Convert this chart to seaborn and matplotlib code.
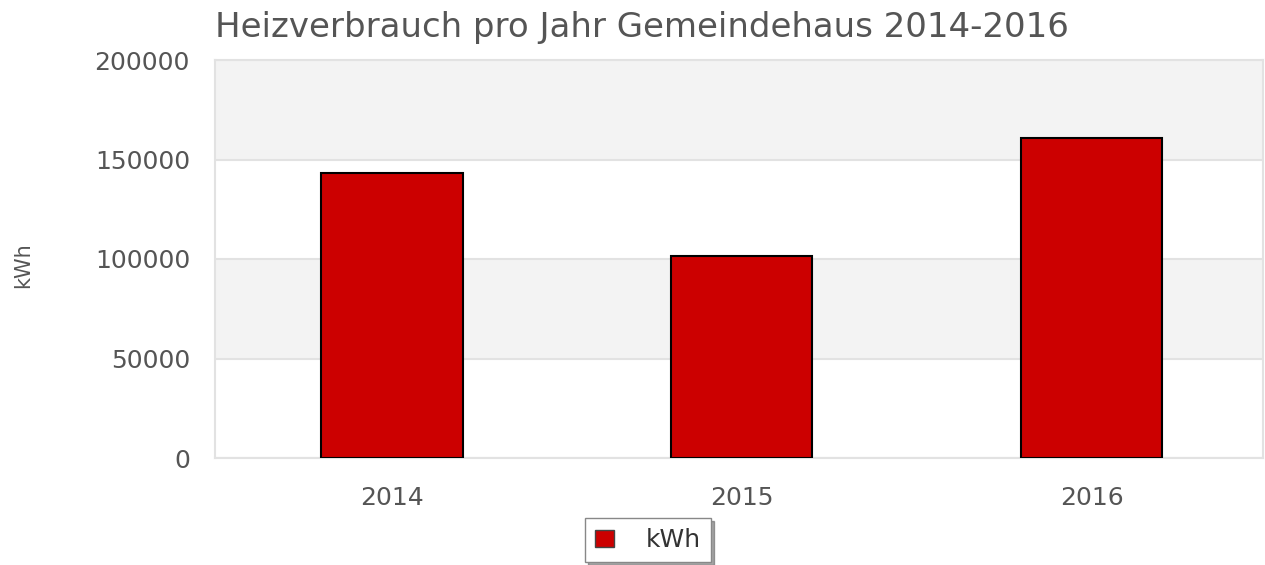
#! /usr/bin/env python

import matplotlib
matplotlib.use("Agg")
import matplotlib.pyplot as plt
from matplotlib.patches import Patch
import pandas as pd
import seaborn as sns

# data
years = ["2014", "2015", "2016"]
kwh = [143400, 101500, 160800]
yticks = [0, 50000, 100000, 150000, 200000]

title = "Heizverbrauch pro Jahr Gemeindehaus 2014-2016"
ylabel = "kWh"
legend_label = "kWh"

bar_color = "#cc0000"
text_color = "#555555"
grid_color = "#e2e2e2"
band_color = "#f3f3f3"

sns.set_theme(style="white")
plt.rcParams["font.family"] = ["DejaVu Sans"]

df = pd.DataFrame(dict(year=years, value=kwh))

fig = plt.figure(figsize=(12.65, 5.65), dpi=100)
ax = fig.add_axes([215 / 1265, 1 - 458 / 565, (1263 - 215) / 1265, (458 - 60) / 565])

# alternating background bands
for lo, hi in zip(yticks[1::2], yticks[2::2]):
    ax.axhspan(lo, hi, color=band_color, zorder=0, lw=0)

sns.barplot(
    data=df, x="year", y="value", color=bar_color, saturation=1,
    edgecolor="black", linewidth=1.5, width=0.405, ax=ax, zorder=3,
)

ax.set_ylim(0, 200000)
ax.set_xlim(-0.505, 2.49)
ax.set_yticks(yticks)
ax.yaxis.grid(True, color=grid_color, lw=1.5, zorder=1)
ax.set_axisbelow(True)
for s in ax.spines.values():
    s.set_color(grid_color)
    s.set_linewidth(1.5)

ax.tick_params(axis="both", colors=text_color, labelsize=18, length=0)
ax.tick_params(axis="y", pad=18)
ax.tick_params(axis="x", pad=20)
ax.set_xlabel("")
ax.set_ylabel(ylabel, color=text_color, fontsize=15)
ax.yaxis.set_label_coords(-0.1737, 0.485)

fig.text(215 / 1265, 1 - 27 / 565, title, color=text_color, fontsize=24.5,
         va="center", ha="left")

handle = Patch(facecolor=bar_color, edgecolor="#444444", lw=1)
leg = fig.legend(
    [handle], [legend_label], loc="center", bbox_to_anchor=(648 / 1265, 1 - 540 / 565),
    fontsize=18, frameon=True, shadow=True, fancybox=False,
    handlelength=0.75, handleheight=0.7, handletextpad=1.3, borderpad=0.4,
    borderaxespad=0,
)
leg.get_frame().set_edgecolor("#888888")
for t in leg.get_texts():
    t.set_color("#333333")

fig.savefig("out.png", dpi=100)
